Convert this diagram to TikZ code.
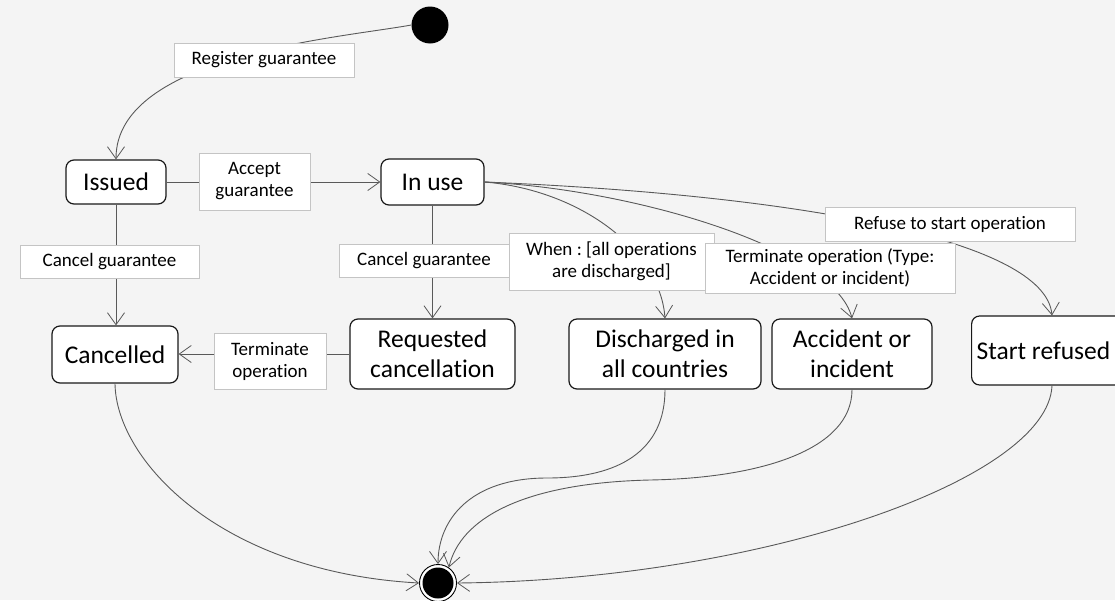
\documentclass[tikz,border=0pt]{standalone}
\usepackage{fontspec}
\setmainfont{Carlito}[Ligatures=NoCommon]
\usetikzlibrary{arrows.meta}
\definecolor{bgc}{HTML}{F4F4F4}
\definecolor{lnc}{HTML}{595959}
\definecolor{lbc}{HTML}{C4C4C4}
\frenchspacing
\begin{document}
\begin{tikzpicture}[x=1pt,y=-1pt,
  statebox/.style={draw=black!90, line width=1.2pt, rounded corners=8pt, fill=white,
    align=center, inner sep=0pt, font=\fontsize{25.5}{30}\selectfont},
  lbl/.style={draw=lbc, line width=0.8pt, fill=white, align=center, inner sep=0pt,
    font=\fontsize{19}{22}\selectfont\frenchspacing},
  conn/.style={draw=lnc, line width=0.9pt,
    -{Straight Barb[length=12pt,width=17pt,line width=0.8pt]}},
  initdot/.style={circle, fill=black, inner sep=0pt, minimum size=37pt},
  finring/.style={circle, draw=black, line width=0.9pt, fill=white, inner sep=0pt, minimum size=37pt},
  findot/.style={circle, fill=black, inner sep=0pt, minimum size=31pt}]
\fill[bgc] (0,0) rectangle (1115,600);
\useasboundingbox (0,0) rectangle (1115,600);
\clip (0,0) rectangle (1115,600);

% states
\node[initdot] (init) at (430,25) {};
\node[statebox, minimum width=100pt, minimum height=44pt] (issued) at (116,182) {Issued};
\node[statebox, minimum width=103pt, minimum height=46pt] (inuse) at (432.5,182) {In use};
\node[statebox, minimum width=126pt, minimum height=57pt] (cancelled) at (115,354.5) {Cancelled};
\node[statebox, minimum width=165pt, minimum height=70pt] (reqc) at (432.5,354) {Requested\\cancellation};
\node[statebox, minimum width=192pt, minimum height=70pt] (disch) at (665,354) {Discharged in\\all countries};
\node[statebox, minimum width=160pt, minimum height=70pt] (accid) at (852,354) {Accident or\\incident};
\node[statebox, minimum height=69pt, anchor=west, inner xsep=5pt] (sref) at (971,350.5) {Start refused\hspace*{20pt}};
\node[finring] (fin) at (438,583) {};
\node[findot] (findot) at (fin) {};

% connectors
\draw[conn] (init.west) .. controls (340,38) and (116,55) .. (issued.north);
\draw[conn] (issued.east) -- (issued.east -| inuse.west);
\draw[conn] (issued.south) -- (issued.south |- cancelled.north);
\draw[conn] (inuse.south) -- (inuse.south |- reqc.north);
\draw[conn] (reqc.west) -- (reqc.west -| cancelled.east);
\draw[conn] (inuse.east) .. controls (580,190) and (660,250) .. (disch.north);
\draw[conn] (inuse.east) .. controls (640,190) and (835,250) .. (accid.north);
\draw[conn] (inuse.east) .. controls (800,195) and (1045,240) .. (sref.north west -| 1052,0);
\draw[conn] (cancelled.south) .. controls (116,460) and (220,572) .. (fin.west);
\draw[conn] (disch.south) .. controls (665,450) and (620,478) .. (547,478)
  .. controls (470,478) and (438,520) .. (fin.north);
\draw[conn] (accid.south) .. controls (852,450) and (760,478) .. (650,480)
  .. controls (520,483) and (460,520) .. (fin.55);
\draw[conn] (sref.south west -| 1052,0) .. controls (1048,480) and (760,580) .. (fin.east);

% labels
\node[lbl, minimum width=180pt, minimum height=34pt] (lreg) at (264,60) {Register guarantee};
\node[lbl, minimum width=111pt, minimum height=57pt] (lacc) at (254.5,181.5) {Accept\\guarantee};
\node[lbl, minimum width=179pt, minimum height=33pt] (lcanl) at (109.5,261.5) {Cancel guarantee};
\node[lbl, minimum width=170pt, minimum height=33pt] (lcanm) at (424,260.5) {Cancel guarantee};
\node[lbl, minimum width=112pt, minimum height=56pt] (lterm) at (270,361) {Terminate\\operation};
\node[lbl, minimum width=205pt, minimum height=57pt] (lwhen) at (611.5,261.5) {When : [all operations\\are discharged]};
\node[lbl, minimum width=250pt, minimum height=34pt] (lref) at (950,224) {Refuse to start operation};
\node[lbl, minimum width=250pt, minimum height=50pt] (ltermt) at (830,268) {Terminate operation (Type:\\Accident or incident)};
\end{tikzpicture}
\end{document}
